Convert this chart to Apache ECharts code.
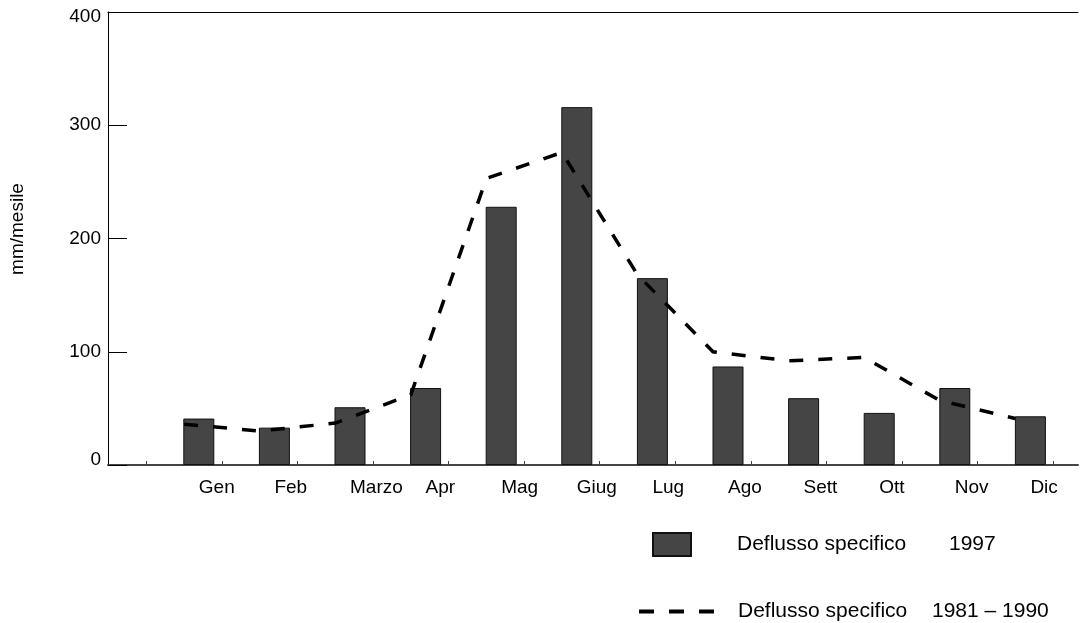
<!DOCTYPE html>
<html>
<head>
<meta charset="utf-8">
<script src="https://cdn.jsdelivr.net/npm/echarts@6/dist/echarts.min.js"></script>
<style>
html,body{margin:0;padding:0;background:#fff;}
#chart{width:1081px;height:623px;}
</style>
</head>
<body>
<div id="chart"></div>
<script>
const months = ['Gen','Feb','Marzo','Apr','Mag','Giug','Lug','Ago','Sett','Ott','Nov','Dic'];
const runoff1997 = [41,33,51,68,228,316,165,87,59,46,68,43];
const runoff8190 = [36,30,37,62,253,276,168,100,92,95,57,41];
const seriesPrefix = 'Deflusso specifico';
const periods = ['1997', '1981 \u2013 1990'];
const yTitle = 'mm/mesile';
const yMin = 0, yMax = 400, yStep = 100;

const FONT = "'Liberation Sans', Arial, Helvetica, sans-serif";
const nameBar = seriesPrefix + ' ' + periods[0];
const nameLine = seriesPrefix + ' ' + periods[1];

const chart = echarts.init(document.getElementById('chart'), null, {renderer: 'canvas'});

const hiddenY = (idx) => ({gridIndex: idx, type: 'value', min: yMin, max: yMax, interval: yStep, show: false});

const option = {
  animation: false,
  backgroundColor: '#fff',
  textStyle: {fontFamily: FONT, color: '#000'},
  grid: [
    {left: 108, right: 3, top: 12, bottom: 158},
    {left: 161, right: 12.8, top: 12, bottom: 158},
    {left: 146.4, right: 28, top: 12, bottom: 158}
  ],
  xAxis: [
    {gridIndex: 0, type: 'value', min: 0, max: 1, position: 'bottom',
     axisLine: {show: true, lineStyle: {color: '#444', width: 2}},
     axisTick: {show: false}, axisLabel: {show: false}, splitLine: {show: false}},
    {gridIndex: 0, type: 'value', min: 0, max: 1, position: 'top',
     axisLine: {show: true, lineStyle: {color: '#000', width: 1}},
     axisTick: {show: false}, axisLabel: {show: false}, splitLine: {show: false}},
    {gridIndex: 1, type: 'category', data: months, boundaryGap: true,
     axisLine: {show: false}, axisTick: {show: false}, splitLine: {show: false},
     axisLabel: {show: true, interval: 0, align: 'left', margin: 13,
       fontSize: 19, fontFamily: FONT, color: '#000'}},
    {gridIndex: 2, type: 'category', data: months, boundaryGap: true,
     axisLine: {show: false}, axisLabel: {show: false}, splitLine: {show: false},
     axisTick: {show: true, inside: true, length: 4, interval: 0,
       lineStyle: {color: '#444', width: 1}}}
  ],
  yAxis: [
    {gridIndex: 0, type: 'value', min: yMin, max: yMax, interval: yStep,
     axisLine: {show: true, lineStyle: {color: '#000', width: 1}},
     axisTick: {show: true, inside: true, length: 19, lineStyle: {color: '#000', width: 1}},
     splitLine: {show: false},
     axisLabel: {show: true, margin: 7, fontSize: 19, fontFamily: FONT, color: '#000',
       lineHeight: 10, verticalAlignMinLabel: 'bottom', verticalAlignMaxLabel: 'top'}},
    hiddenY(1),
    hiddenY(2)
  ],
  legend: [
    {data: [nameBar], left: 652, top: 532, padding: 0, orient: 'vertical',
     itemWidth: 38, itemHeight: 23, icon: 'rect',
     formatter: () => '{a|' + seriesPrefix + '}{b|' + periods[0] + '}',
     textStyle: {fontSize: 21, fontFamily: FONT, color: '#000', padding: [0, 0, 0, 41],
       rich: {a: {width: 212, fontSize: 21, fontFamily: FONT, color: '#000'},
              b: {fontSize: 21, fontFamily: FONT, color: '#000'}}}},
    {data: [nameLine], left: 637, top: 601, padding: 0, orient: 'vertical',
     itemWidth: 77, itemHeight: 16,
     itemStyle: {opacity: 0},
     lineStyle: {color: '#000', width: 4, type: [15, 15]},
     formatter: () => '{a|' + seriesPrefix + '}{b|' + periods[1] + '}',
     textStyle: {fontSize: 21, fontFamily: FONT, color: '#000', padding: [0, 0, 0, 17],
       rich: {a: {width: 194, fontSize: 21, fontFamily: FONT, color: '#000'},
              b: {fontSize: 21, fontFamily: FONT, color: '#000'}}}}
  ],
  graphic: [
    {type: 'text', x: 18, y: 229, rotation: Math.PI / 2,
     style: {text: yTitle, align: 'center', verticalAlign: 'middle',
       font: '19px ' + FONT, fill: '#000'}}
  ],
  series: [
    {name: nameBar, type: 'bar', xAxisIndex: 2, yAxisIndex: 1, data: runoff1997,
     barWidth: 31,
     itemStyle: {color: '#454545', borderColor: '#111', borderWidth: 1}},
    {name: nameLine, type: 'line', xAxisIndex: 3, yAxisIndex: 2, data: runoff8190,
     symbol: 'none', smooth: false, z: 3,
     lineStyle: {color: '#000', width: 3.5, type: [14, 15], join: 'miter'},
     itemStyle: {color: '#000'}}
  ]
};
chart.setOption(option);
</script>
</body>
</html>
